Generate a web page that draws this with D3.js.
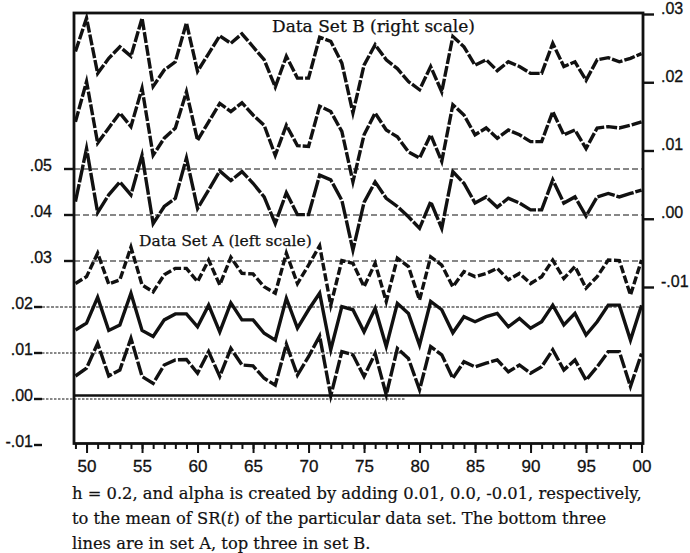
<!DOCTYPE html>
<html>
<head>
<meta charset="utf-8">
<script src="https://cdn.jsdelivr.net/npm/d3@7"></script>
<style>
  body { margin: 0; background: #fff; }
  svg { display: block; }
</style>
</head>
<body>
<svg id="chart" width="690" height="553"></svg>
<script>
// ---- data -------------------------------------------------------------
const years = [1949,1950,1951,1952,1953,1954,1955,1956,1957,1958,1959,1960,1961,1962,1963,1964,1965,1966,1967,1968,
  1969,1970,1971,1972,1973,1974,1975,1976,1977,1978,1979,1980,1981,1982,1983,1984,1985,1986,1987,1988,
  1989,1990,1991,1992,1993,1994,1995,1996,1997,1998,1999,2000];

// Data set B (right scale): alpha = mean + 0.01, mean, mean - 0.01
const setBHigh = [0.0245,0.0294,0.0213,0.0235,0.0252,0.0238,0.0294,0.0194,0.0218,0.0230,0.0287,0.0216,0.0242,0.0268,0.0257,0.0271,0.0252,0.0233,0.0193,0.0238,
  0.0206,0.0206,0.0266,0.0260,0.0228,0.0155,0.0225,0.0255,0.0233,0.0220,0.0201,0.0189,0.0223,0.0186,0.0267,0.0252,0.0225,0.0233,0.0217,0.0230,
  0.0223,0.0213,0.0213,0.0257,0.0223,0.0230,0.0203,0.0233,0.0236,0.0230,0.0235,0.0242];
const setBMid = [0.0142,0.0201,0.0111,0.0133,0.0155,0.0135,0.0191,0.0093,0.0118,0.0133,0.0186,0.0115,0.0142,0.0169,0.0157,0.0170,0.0152,0.0137,0.0093,0.0137,
  0.0107,0.0106,0.0165,0.0157,0.0128,0.0054,0.0123,0.0155,0.0130,0.0120,0.0098,0.0089,0.0123,0.0084,0.0167,0.0152,0.0123,0.0133,0.0118,0.0130,
  0.0123,0.0113,0.0113,0.0157,0.0123,0.0130,0.0103,0.0133,0.0135,0.0133,0.0137,0.0142];
const setBLow = [0.0025,0.0103,0.0009,0.0035,0.0054,0.0035,0.0093,-0.0007,0.0018,0.0030,0.0089,0.0015,0.0042,0.0070,0.0056,0.0069,0.0052,0.0032,-0.0007,0.0038,
  0.0006,0.0006,0.0064,0.0057,0.0027,-0.0046,0.0024,0.0054,0.0030,0.0018,0.0003,-0.0014,0.0025,-0.0014,0.0069,0.0052,0.0023,0.0032,0.0017,0.0030,
  0.0023,0.0013,0.0013,0.0057,0.0023,0.0032,0.0004,0.0032,0.0037,0.0032,0.0037,0.0042];

// Data set A (left scale): alpha = mean + 0.01, mean, mean - 0.01
const setAHigh = [0.0251,0.0266,0.0317,0.0250,0.0259,0.0330,0.0248,0.0233,0.0270,0.0284,0.0284,0.0255,0.0302,0.0248,0.0308,0.0273,0.0272,0.0244,0.0230,0.0317,
  0.0251,0.0291,0.0333,0.0204,0.0301,0.0295,0.0244,0.0295,0.0212,0.0306,0.0288,0.0215,0.0309,0.0291,0.0244,0.0277,0.0266,0.0273,0.0284,0.0259,
  0.0273,0.0251,0.0266,0.0302,0.0262,0.0288,0.0241,0.0266,0.0302,0.0301,0.0226,0.0302];
const setAMid = [0.0150,0.0165,0.0221,0.0149,0.0161,0.0230,0.0149,0.0136,0.0172,0.0185,0.0185,0.0157,0.0204,0.0146,0.0209,0.0172,0.0172,0.0143,0.0128,0.0219,
  0.0154,0.0194,0.0230,0.0107,0.0201,0.0194,0.0146,0.0197,0.0114,0.0208,0.0186,0.0117,0.0212,0.0194,0.0144,0.0179,0.0168,0.0179,0.0186,0.0157,
  0.0175,0.0154,0.0168,0.0204,0.0161,0.0186,0.0139,0.0168,0.0204,0.0204,0.0128,0.0204];
const setALow = [0.0050,0.0067,0.0121,0.0050,0.0063,0.0132,0.0049,0.0034,0.0074,0.0085,0.0086,0.0056,0.0103,0.0049,0.0110,0.0074,0.0072,0.0045,0.0030,0.0119,
  0.0052,0.0092,0.0137,0.0007,0.0103,0.0096,0.0049,0.0099,0.0009,0.0110,0.0088,0.0020,0.0114,0.0096,0.0045,0.0081,0.0070,0.0078,0.0085,0.0059,
  0.0074,0.0056,0.0070,0.0107,0.0063,0.0085,0.0041,0.0070,0.0103,0.0103,0.0027,0.0099];

const xMajorTicks = [1950,1955,1960,1965,1970,1975,1980,1985,1990,1995,2000];
const xTickLabels = ["50","55","60","65","70","75","80","85","90","95","00"];

const leftTicks      = [-0.01, 0.00, 0.01, 0.02, 0.03, 0.04, 0.05];
const leftTickLabels = ["-.01", ".00", ".01", ".02", ".03", ".04", ".05"];
const rightTicks      = [-0.01, 0.00, 0.01, 0.02, 0.03];
const rightTickLabels = ["-.01", ".00", ".01", ".02", ".03"];

const titleB = "Data Set B (right scale)";
const titleA = "Data Set A (left scale)";
// caption pieces; the flag marks text set in italics
const captionLines = [
  [["h = 0.2, and alpha is created by adding 0.01, 0.0, -0.01, respectively,", false]],
  [["to the mean of SR(", false], ["t", true], [") of the particular data set. The bottom three", false]],
  [["lines are in set A, top three in set B.", false]]
];

// ---- layout -----------------------------------------------------------
const frame = { left: 74, right: 643, top: 13, bottom: 443.5 };
const svg = d3.select("#chart");

const x  = d3.scaleLinear().domain([1948.87, 2000.13]).range([frame.left, frame.right]);
const yL = d3.scaleLinear().domain([-0.01, 0.05]).range([445, 169]);
const yR = d3.scaleLinear().domain([-0.01, 0.03]).range([287, 14]);

const ink = "#111";
const labelFont = "'Liberation Sans', Arial, sans-serif";
const serifFont = "'DejaVu Serif', 'Liberation Serif', serif";

// ---- guide lines ------------------------------------------------------
const guides = svg.append("g").attr("stroke", ink).attr("fill", "none");

// long dashed guides at .03, .04, .05 across the whole panel
[0.03, 0.04, 0.05].forEach(v => {
  guides.append("line")
    .attr("x1", frame.left).attr("x2", frame.right)
    .attr("y1", yL(v)).attr("y2", yL(v))
    .attr("stroke-width", 1.1).attr("stroke-dasharray", "6,3");
});
// dotted guide at .02 across the panel
guides.append("line")
  .attr("x1", 42).attr("x2", frame.right)
  .attr("y1", yL(0.02)).attr("y2", yL(0.02))
  .attr("stroke-width", 1).attr("stroke-dasharray", "3,1.5");
// dotted guides at .01 and .00, stopping near 1979
[0.00, 0.01].forEach(v => {
  guides.append("line")
    .attr("x1", 42).attr("x2", x(1978.7))
    .attr("y1", yL(v)).attr("y2", yL(v))
    .attr("stroke-width", 1).attr("stroke-dasharray", "2.5,1.5");
});
// heavy zero bar just above the .00 guide
guides.append("line")
  .attr("x1", frame.left).attr("x2", frame.right)
  .attr("y1", yL(0) - 3.5).attr("y2", yL(0) - 3.5)
  .attr("stroke-width", 2.6);

// ---- series -----------------------------------------------------------
const lineR = d3.line().x((d, i) => x(years[i])).y(d => yR(d));
const lineL = d3.line().x((d, i) => x(years[i])).y(d => yL(d));

const series = [
  { data: setBHigh, gen: lineR, dash: "11,2" },
  { data: setBMid,  gen: lineR, dash: "11,2" },
  { data: setBLow,  gen: lineR, dash: "18,1.8" },
  { data: setAHigh, gen: lineL, dash: "8,2.6" },
  { data: setAMid,  gen: lineL, dash: null },
  { data: setALow,  gen: lineL, dash: "14,2.2" }
];
svg.append("g").selectAll("path").data(series).join("path")
  .attr("d", s => s.gen(s.data))
  .attr("fill", "none")
  .attr("stroke", ink)
  .attr("stroke-width", 3.4)
  .attr("stroke-linejoin", "miter")
  .attr("stroke-miterlimit", 6)
  .attr("stroke-dasharray", s => s.dash);

// ---- frame ------------------------------------------------------------
svg.append("rect")
  .attr("x", frame.left).attr("y", frame.top)
  .attr("width", frame.right - frame.left).attr("height", frame.bottom - frame.top)
  .attr("fill", "none").attr("stroke", ink).attr("stroke-width", 2.8);

// ---- x axis -----------------------------------------------------------
const xMinor = d3.axisBottom(x).tickValues(years).tickSize(5.5).tickFormat("");
const xMajor = d3.axisBottom(x).tickValues(xMajorTicks).tickSize(9.5).tickPadding(7)
  .tickFormat((d, i) => xTickLabels[i]);
[xMinor, xMajor].forEach(ax => {
  const g = svg.append("g").attr("transform", `translate(0,${frame.bottom})`).call(ax);
  g.select(".domain").remove();
  g.selectAll(".tick line").attr("stroke", ink).attr("stroke-width", 2);
  g.selectAll(".tick text")
    .attr("fill", ink).attr("font-family", labelFont).attr("font-size", 17)
    .attr("stroke", ink).attr("stroke-width", 0.3);
});

// ---- left axis (set A) ------------------------------------------------
const left = svg.append("g").attr("fill", ink).attr("font-family", labelFont).attr("font-size", 16);
leftTicks.forEach((v, i) => {
  const y = yL(v);
  const upper = v >= 0.03;
  left.append("text")
    .attr("x", upper ? 52 : 33).attr("y", y + 1.5)
    .attr("text-anchor", "end")
    .attr("stroke", ink).attr("stroke-width", 0.3)
    .text(leftTickLabels[i]);
  left.append("line")
    .attr("x1", upper ? 64 : 34).attr("x2", upper ? frame.left : 42)
    .attr("y1", y).attr("y2", y)
    .attr("stroke", ink).attr("stroke-width", 2.4);
});

// ---- right axis (set B) -----------------------------------------------
const right = d3.axisRight(yR).tickValues(rightTicks).tickSize(11).tickPadding(7)
  .tickFormat((d, i) => rightTickLabels[i]);
const gR = svg.append("g").attr("transform", `translate(${frame.right},0)`).call(right);
gR.select(".domain").remove();
gR.selectAll(".tick line").attr("stroke", ink).attr("stroke-width", 2.4);
gR.selectAll(".tick text")
  .attr("fill", ink).attr("font-family", labelFont).attr("font-size", 16)
  .attr("stroke", ink).attr("stroke-width", 0.3)
  .attr("dy", "-0.05em");

// ---- titles -----------------------------------------------------------
// sized so that each text spans its target width without distorting glyphs
function fitText(sel, width, baseSize) {
  sel.attr("font-size", baseSize);
  const w = sel.node().getComputedTextLength();
  sel.attr("font-size", baseSize * width / w);
}
fitText(svg.append("text").attr("x", 272).attr("y", 32)
  .attr("font-family", serifFont).attr("fill", ink)
  .attr("stroke", ink).attr("stroke-width", 0.25).text(titleB), 203, 15);
fitText(svg.append("text").attr("x", 139).attr("y", 246)
  .attr("font-family", serifFont).attr("fill", ink)
  .attr("stroke", ink).attr("stroke-width", 0.25).text(titleA), 173, 15);

// ---- caption ----------------------------------------------------------
// one shared font size, chosen so the first line runs out to the right axis
const cap = svg.append("g").attr("font-family", serifFont).attr("fill", ink)
  .attr("stroke", ink).attr("stroke-width", 0.2);
const base = 18;
const capTexts = captionLines.map((parts, i) => {
  const txt = cap.append("text").attr("x", 72).attr("y", 499 + i * 25).attr("font-size", base);
  parts.forEach(([s, it]) => txt.append("tspan").attr("font-style", it ? "italic" : null).text(s));
  return txt;
});
const capSize = base * 570 / capTexts[0].node().getComputedTextLength();
capTexts.forEach(t => t.attr("font-size", capSize));
</script>
</body>
</html>
